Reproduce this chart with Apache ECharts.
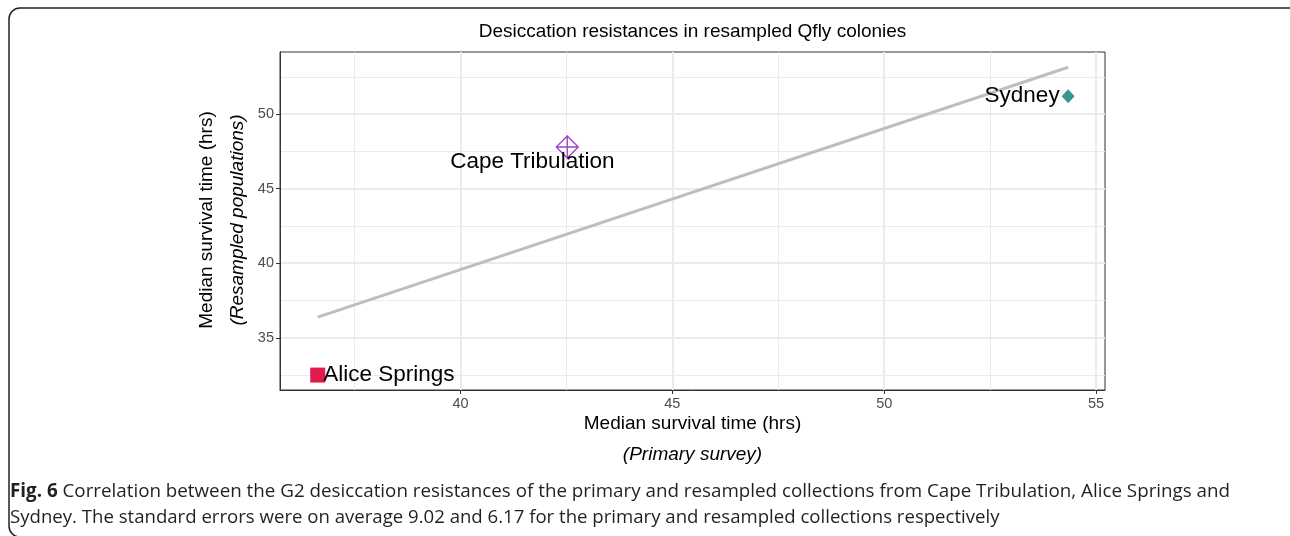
<!DOCTYPE html>
<html>
<head>
<meta charset="utf-8">
<script src="https://cdn.jsdelivr.net/npm/echarts@6/dist/echarts.min.js"></script>
<style>html,body{margin:0;padding:0;background:#fff;}#c{width:1290px;height:536px;}</style>
</head>
<body>
<div id="c"></div>
<script>
// ---- data ----
const sites = ['Alice Springs', 'Cape Tribulation', 'Sydney'];
const primary = [36.63, 42.52, 54.34];     // x: primary survey median survival (hrs)
const resampled = [32.5, 47.79, 51.2];     // y: resampled populations median survival (hrs)
const fitX = [36.63, 54.34];               // regression line ends
const fitY = [36.39, 53.14];
const xMajor = [40, 45, 50, 55];
const xMinor = [37.5, 42.5, 47.5, 52.5];
const yMajor = [35, 40, 45, 50];
const yMinor = [32.5, 37.5, 42.5, 47.5, 52.5];
const xRange = [35.74, 55.21];
const yRange = [31.5, 54.16];

const FONT = '"Liberation Sans", Arial, sans-serif';
const chart = echarts.init(document.getElementById('c'), null, {renderer: 'canvas'});

const gridLines = [];
xMinor.forEach(v => gridLines.push({xAxis: v, lineStyle: {width: 1}}));
yMinor.forEach(v => gridLines.push({yAxis: v, lineStyle: {width: 1}}));
xMajor.forEach(v => gridLines.push({xAxis: v, lineStyle: {width: 2}}));
yMajor.forEach(v => gridLines.push({yAxis: v, lineStyle: {width: 2}}));

const pointStyles = [
  {symbol: 'rect', symbolSize: 15, itemStyle: {color: '#e31a4c', opacity: 1},
   label: {position: 'right', distance: -2}},
  {symbol: 'path://M0,-10 L10,0 L0,10 L-10,0 Z M0,-10 L0,10 M-10,0 L10,0', symbolSize: 22,
   itemStyle: {color: 'rgba(0,0,0,0)', borderColor: '#a040c8', borderWidth: 1.3, opacity: 1},
   label: {position: 'inside', offset: [-35, 15]}},
  {symbol: 'diamond', symbolSize: [13, 14], itemStyle: {color: '#3b978b', opacity: 1},
   label: {position: 'left', distance: 2}}
];

const points = sites.map((s, i) => Object.assign({
  name: s, value: [primary[i], resampled[i]]
}, pointStyles[i], {label: Object.assign({show: true, formatter: s, fontSize: 22.5, color: '#000', fontFamily: FONT, textBorderWidth: 0, opacity: 1}, pointStyles[i].label)}));

const axisLabelStyle = {color: '#4d4d4d', fontSize: 14.5, fontFamily: FONT};

chart.setOption({
  animation: false,
  backgroundColor: '#fff',
  grid: {left: 280, top: 52, width: 825, height: 338, show: true, borderColor: '#333', borderWidth: 1, backgroundColor: 'transparent', containLabel: false},
  xAxis: {
    type: 'value', min: xRange[0], max: xRange[1],
    splitLine: {show: false},
    axisLine: {show: true, onZero: false, lineStyle: {color: '#333', width: 1}},
    axisTick: {show: true, length: 4, customValues: xMajor, lineStyle: {color: '#333'}},
    axisLabel: Object.assign({customValues: xMajor, margin: 6}, axisLabelStyle)
  },
  yAxis: {
    type: 'value', min: yRange[0], max: yRange[1],
    splitLine: {show: false},
    axisLine: {show: true, onZero: false, lineStyle: {color: '#333', width: 1}},
    axisTick: {show: true, length: 4, customValues: yMajor, lineStyle: {color: '#333'}},
    axisLabel: Object.assign({customValues: yMajor, margin: 6}, axisLabelStyle)
  },
  series: [
    {
      type: 'line', data: [], silent: true, z: 0,
      markLine: {silent: true, symbol: 'none', label: {show: false}, animation: false, z: 0,
        lineStyle: {color: '#ebebeb', type: 'solid'}, data: gridLines}
    },
    {
      type: 'line', data: fitX.map((x, i) => [x, fitY[i]]), symbol: 'none', silent: true, z: 3,
      lineStyle: {color: '#bebebe', width: 3}
    },
    {
      type: 'scatter', data: points, z: 10, zlevel: 0, silent: true
    }
  ],
  graphic: [
    {type: 'rect', shape: {x: 9, y: 8, width: 1292, height: 529, r: 11}, style: {fill: 'none', stroke: '#222', lineWidth: 1.5}, silent: true, z: -1},
    {type: 'text', style: {text: 'Desiccation resistances in resampled Qfly colonies', x: 692.5, y: 32, align: 'center', verticalAlign: 'middle', font: '19px ' + FONT, fill: '#000'}},
    {type: 'text', style: {text: 'Median survival time (hrs)', x: 692.5, y: 424, align: 'center', verticalAlign: 'middle', font: '19px ' + FONT, fill: '#000'}},
    {type: 'text', style: {text: '(Primary survey)', x: 692.5, y: 455, align: 'center', verticalAlign: 'middle', font: 'italic 19px ' + FONT, fill: '#000'}},
    {type: 'text', x: 207, y: 220, rotation: Math.PI / 2, style: {text: 'Median survival time (hrs)', x: 0, y: 0, align: 'center', verticalAlign: 'middle', font: '19px ' + FONT, fill: '#000'}},
    {type: 'text', x: 238, y: 220, rotation: Math.PI / 2, style: {text: '(Resampled populations)', x: 0, y: 0, align: 'center', verticalAlign: 'middle', font: 'italic 19px ' + FONT, fill: '#000'}},
    {type: 'text', style: {x: 10, y: 492, verticalAlign: 'middle', text: '{b|Fig. 6} Correlation between the G2 desiccation resistances of the primary and resampled collections from Cape Tribulation, Alice Springs and',
      rich: {b: {fontWeight: 'bold', fontSize: 18.8, fontFamily: '"Open Sans"', fill: '#231f20'}}, font: '18.8px "Open Sans"', fill: '#231f20'}},
    {type: 'text', style: {x: 10, y: 518, verticalAlign: 'middle', text: 'Sydney. The standard errors were on average 9.02 and 6.17 for the primary and resampled collections respectively', font: '18.6px "Open Sans"', fill: '#231f20'}}
  ]
});
</script>
</body>
</html>
